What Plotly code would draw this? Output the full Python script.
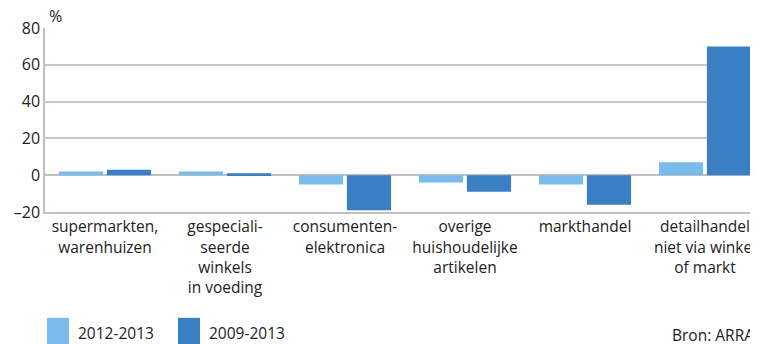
import plotly.graph_objects as go

categories = ["supermarkten,<br>warenhuizen",
              "gespeciali-<br>seerde<br>winkels<br>in voeding",
              "consumenten-<br>elektronica",
              "overige<br>huishoudelijke<br>artikelen",
              "markthandel",
              "detailhandel<br>niet via winkel<br>of markt"]
series_names = ["2012-2013", "2009-2013"]
values_2012_2013 = [2, 2, -5, -4, -5, 7]
values_2009_2013 = [3, 1, -19, -9, -16, 70]
y_tickvals = [-20, 0, 20, 40, 60, 80]
y_ticktext = ["–20", "0", "20", "40", "60", "80"]
colors = ["#79bbeb", "#3a7fc3"]

FONT = "Open Sans"
OFF = 8  # page body margin
W, H = 758 - OFF, 344 - OFF
L, T, B = 45 - OFF, 27.7 - OFF, 132
plot_w = W - L
plot_h = H - T - B

def px_x(p):
    return (p - OFF - L) / plot_w

def px_y(p):
    return (H - B - (p - OFF)) / plot_h

fig = go.Figure()
fig.add_trace(go.Bar(x=list(range(6)), y=values_2012_2013, name=series_names[0],
                     marker=dict(color=colors[0], line=dict(width=0))))
fig.add_trace(go.Bar(x=list(range(6)), y=values_2009_2013, name=series_names[1],
                     marker=dict(color=colors[1], line=dict(width=0))))

fig.update_layout(
    width=W, height=H,
    margin=dict(l=L, r=0, t=T, b=B, pad=0, autoexpand=False),
    paper_bgcolor="white", plot_bgcolor="white",
    barmode="group", bargap=0.2, bargroupgap=0.08,
    showlegend=False,
    font=dict(family=FONT, size=15.5, color="#222222"),
)
fig.update_xaxes(
    range=[-0.5, 5.5 - 7 / 120], automargin=False,
    tickvals=list(range(6)), ticktext=categories,
    showgrid=False, showline=True, linecolor="#c0c0c0", linewidth=1.5,
    ticks="", tickfont=dict(size=15.5, color="#222222"),
    zeroline=False,
)
fig.update_yaxes(
    range=[-20, 80], tickvals=y_tickvals, ticktext=y_ticktext, automargin=False,
    showgrid=True, gridcolor="#c8c8c8", gridwidth=1.5,
    showline=True, linecolor="#c0c0c0", linewidth=1.5,
    zeroline=True, zerolinecolor="#c0c0c0", zerolinewidth=1.5,
    ticks="", tickfont=dict(size=16, color="#222222"),
)

# axis unit
fig.add_annotation(text="%", xref="paper", yref="paper", x=px_x(47), y=px_y(16),
                   xanchor="left", yanchor="middle", showarrow=False,
                   font=dict(size=16, color="#222222"))

# legend
legend_items = [(47, 69, 76), (178, 200, 207)]
for (x0, x1, tx), name, col in zip(legend_items, series_names, colors):
    fig.add_shape(type="rect", xref="paper", yref="paper",
                  x0=px_x(x0), x1=px_x(x1), y0=px_y(318), y1=px_y(350),
                  fillcolor=col, line=dict(width=0), layer="above")
    fig.add_annotation(text=name, xref="paper", yref="paper", x=px_x(tx), y=px_y(333),
                       xanchor="left", yanchor="middle", showarrow=False,
                       font=dict(size=15.5, color="#222222"))

fig.add_annotation(text="Bron: ARRA", xref="paper", yref="paper", x=px_x(670), y=px_y(335),
                   xanchor="left", yanchor="middle", showarrow=False,
                   font=dict(size=15.5, color="#222222"))

fig.write_html("out.html")
